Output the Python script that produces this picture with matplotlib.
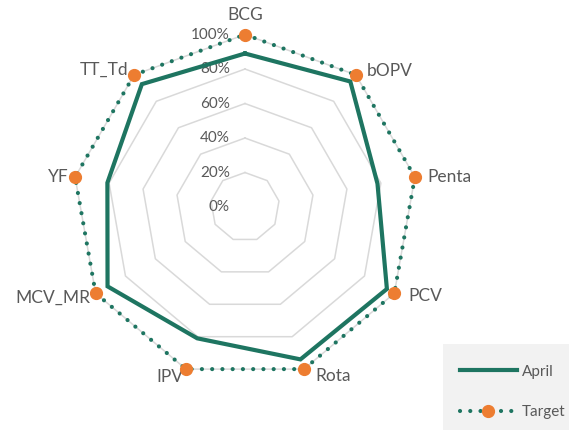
import numpy as np
import matplotlib.pyplot as plt
from matplotlib.lines import Line2D
from matplotlib.patches import Rectangle

plt.rcParams['font.family'] = ['Lato', 'DejaVu Sans']

categories = ["BCG", "bOPV", "Penta", "PCV", "Rota", "IPV", "MCV_MR", "YF", "TT_Td"]
april = [0.89, 0.95, 0.78, 0.95, 0.94, 0.81, 0.92, 0.81, 0.93]
target = [1.0] * 9
rings = [0.2, 0.4, 0.6, 0.8, 1.0]
tick_vals = [0.0, 0.2, 0.4, 0.6, 0.8, 1.0]
tick_labels = ["0%", "20%", "40%", "60%", "80%", "100%"]

green = "#1e7561"
orange = "#ed7d31"
grey_txt = "#595959"

n = len(categories)
theta = np.linspace(0, 2 * np.pi, n, endpoint=False)
th_c = np.append(theta, theta[0])

fig = plt.figure(figsize=(5.69, 4.30), dpi=100)
ax = fig.add_axes([0.1274, 0.1174, 0.6063, 0.8023], projection="polar")
ax.set_theta_offset(np.pi / 2)
ax.set_theta_direction(-1)
ax.set_ylim(0, 1)
ax.grid(False)
ax.spines["polar"].set_visible(False)
ax.set_xticks([])
ax.set_yticks([])
ax.patch.set_alpha(0)

# polygon gridlines
for r in rings:
    ax.plot(th_c, [r] * (n + 1), color="#d9d9d9", lw=1.1, zorder=1)

# radial tick labels
for v, lab in zip(tick_vals, tick_labels):
    ax.annotate(lab, (0, v), xytext=(-11, 0), textcoords="offset points",
                ha="right", va="center", fontsize=11, color=grey_txt)

# series
ax.plot(th_c, np.append(april, april[0]), color=green, lw=3.0, zorder=3,
        solid_joinstyle="miter")
ax.plot(th_c, np.append(target, target[0]), color=green, lw=3.0,
        linestyle=(0, (0.01, 2.45)), dash_capstyle="round", zorder=4)
ax.plot(theta, target, "o", color=orange, ms=8.5, zorder=5, clip_on=False)

# category labels
offsets = [(0, 14), (8, 3), (9, 0), (10, -2), (8, -5), (-2, -6), (-4, -3), (-5, 0), (-4, 4)]
aligns = ["center", "left", "left", "left", "left", "right", "right", "right", "right"]
for t, lab, off, ha in zip(theta, categories, offsets, aligns):
    ax.annotate(lab, (t, 1.0), xytext=off, textcoords="offset points",
                ha=ha, va="center", fontsize=12.5, color=grey_txt,
                annotation_clip=False)

# legend
fig.patches.append(Rectangle((443 / 569, 0), 126 / 569, 86 / 430,
                             transform=fig.transFigure, facecolor="#f2f2f2",
                             edgecolor="none", zorder=0))
handles = [
    Line2D([], [], color=green, lw=3.0),
    Line2D([], [], color=green, lw=3.0, linestyle=(0, (0.01, 2.45)),
           dash_capstyle="round", marker="o", markersize=8.5,
           markerfacecolor=orange, markeredgecolor=orange),
]
fig.legend(handles, ["April", "Target"], loc="lower left",
           bbox_to_anchor=(446 / 569, -3 / 430), frameon=False, fontsize=11,
           handlelength=3.75, handletextpad=0.3, labelspacing=1.75,
           labelcolor=grey_txt)

fig.savefig("out.png", dpi=100)
